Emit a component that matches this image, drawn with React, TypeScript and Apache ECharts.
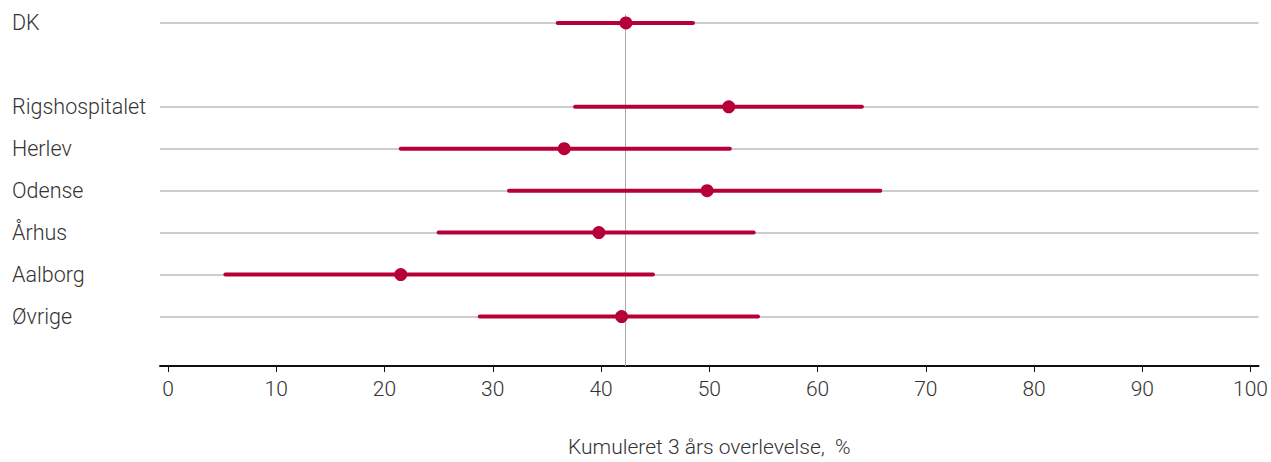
import React, { useEffect, useRef } from "react";
import * as echarts from "echarts";

const categories = ["DK", "", "Rigshospitalet", "Herlev", "Odense", "Århus", "Aalborg", "Øvrige"];
const estimate = [42.3, null, 51.8, 36.6, 49.8, 39.8, 21.5, 41.9];
const lower = [36.0, null, 37.6, 21.5, 31.5, 25.0, 5.3, 28.8];
const upper = [48.5, null, 64.1, 51.9, 65.8, 54.1, 44.8, 54.5];
const xTicks = [0, 10, 20, 30, 40, 50, 60, 70, 80, 90, 100];
const referenceValue = 42.25;
const xTitle = "Kumuleret 3 års overlevelse,  %";

const RED = "#b70037";
const FONT = "Roboto";

export default function App() {
  const ref = useRef<HTMLDivElement>(null);
  useEffect(() => {
    if (!ref.current) return;
    const chart = echarts.init(ref.current, null, { renderer: "svg" });
    const rowIdx = categories.map((c, i) => (c ? i : -1)).filter((i) => i >= 0);
    const ciData = rowIdx.map((i) => [lower[i], upper[i], i]);
    const ptData = rowIdx.map((i) => [estimate[i], i]);
    chart.setOption({
      animation: false,
      grid: { left: 160, right: 11, top: 14.5, bottom: 83.5, containLabel: false },
      xAxis: {
        type: "value",
        min: -0.74,
        max: 100.74,
        name: xTitle,
        nameLocation: "middle",
        nameGap: 70,
        nameTextStyle: { fontFamily: FONT, fontSize: 21, color: "#333", fontWeight: 300 },
        axisLine: { show: true, onZero: false, lineStyle: { color: "#111", width: 2 } },
        axisTick: { show: true, length: 6, customValues: xTicks, lineStyle: { color: "#111", width: 1 } },
        axisLabel: {
          customValues: xTicks,
          margin: 12,
          fontFamily: FONT,
          fontSize: 21,
          fontWeight: 300,
          color: "#333",
        },
        splitLine: { show: false },
      },
      yAxis: {
        type: "value",
        inverse: true,
        min: -0.2,
        max: 8.18,
        axisLine: { show: false },
        axisTick: { show: false, customValues: rowIdx },
        axisLabel: {
          customValues: rowIdx,
          formatter: (v: number) => categories[Math.round(v)] || "",
          align: "left",
          margin: 148,
          fontFamily: FONT,
          fontSize: 21.5,
          fontWeight: 300,
          color: "#333",
        },
        splitLine: { show: true, lineStyle: { color: "#bdbdbd", width: 1.5 } },
      },
      series: [
        {
          type: "custom",
          data: ciData,
          renderItem: (params: any, api: any) => {
            const p1 = api.coord([api.value(0), api.value(2)]);
            const p2 = api.coord([api.value(1), api.value(2)]);
            return {
              type: "line",
              shape: { x1: p1[0], y1: p1[1], x2: p2[0], y2: p2[1] },
              style: { stroke: RED, lineWidth: 4, lineCap: "round" },
            };
          },
          z: 3,
        },
        {
          type: "scatter",
          data: ptData,
          symbol: "circle",
          symbolSize: 13,
          itemStyle: { color: RED, opacity: 1 },
          z: 4,
          markLine: {
            silent: true,
            symbol: "none",
            label: { show: false },
            lineStyle: { color: "#aaaaaa", width: 1, type: "solid" },
            data: [{ xAxis: referenceValue }],
            z: 2,
          },
        },
      ],
    });
    return () => chart.dispose();
  }, []);
  return <div ref={ref} style={{ width: 1271, height: 462, position: "absolute", left: 0, top: 0 }} />;
}
